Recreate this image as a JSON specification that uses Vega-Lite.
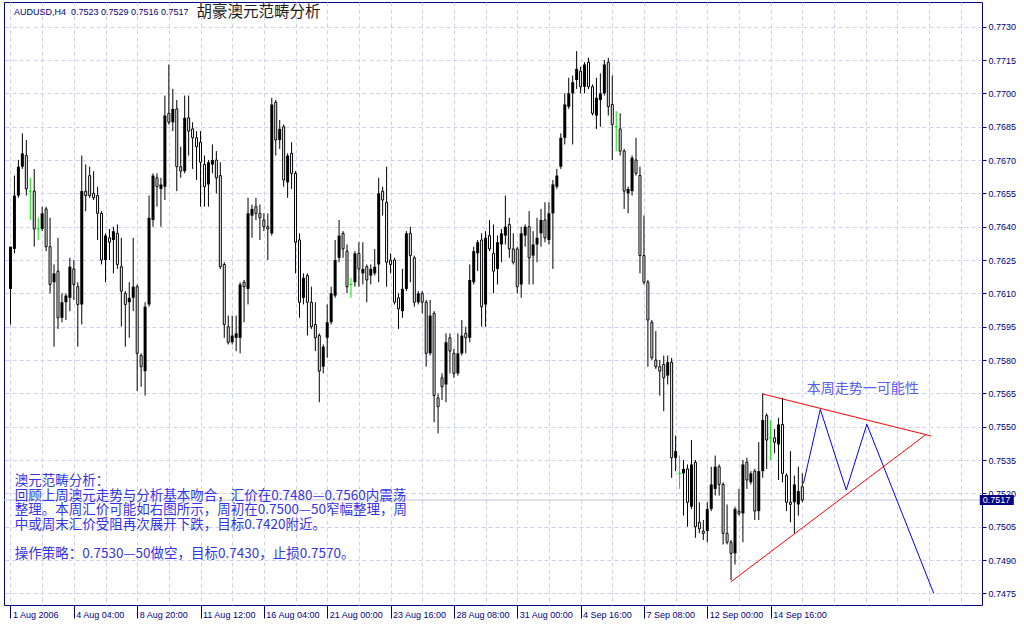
{
  "$schema": "https://vega.github.io/schema/vega-lite/v6.json",
  "autosize": {"type": "none"},
  "padding": {"left": 4, "top": 2, "right": 42, "bottom": 22},
  "width": 978,
  "height": 603,
  "background": "#ffffff",
  "config": {
    "view": {"stroke": "#000080", "strokeWidth": 1},
    "axis": {"labelOverlap": false, "labelFlush": false, "labelBound": false}
  },
  "datasets": {
    "bars": [
      {"i":0,"o":0.7612,"h":0.7631,"l":0.7596,"c":0.7631},
      {"i":1,"o":0.7630,"h":0.7663,"l":0.7628,"c":0.7654},
      {"i":2,"o":0.7654,"h":0.7670,"l":0.7653,"c":0.7667},
      {"i":3,"o":0.7667,"h":0.7682,"l":0.7666,"c":0.7673},
      {"i":4,"o":0.7672,"h":0.7679,"l":0.7654,"c":0.7657},
      {"i":5,"o":0.7656,"h":0.7662,"l":0.7643,"c":0.7656},
      {"i":6,"o":0.7656,"h":0.7666,"l":0.7631,"c":0.7639},
      {"i":7,"o":0.7639,"h":0.7644,"l":0.7634,"c":0.7639},
      {"i":8,"o":0.7639,"h":0.7649,"l":0.7638,"c":0.7646},
      {"i":9,"o":0.7648,"h":0.7649,"l":0.7629,"c":0.7631},
      {"i":10,"o":0.7631,"h":0.7644,"l":0.7610,"c":0.7614},
      {"i":11,"o":0.7615,"h":0.7623,"l":0.7586,"c":0.7619},
      {"i":12,"o":0.7620,"h":0.7635,"l":0.7594,"c":0.7599},
      {"i":13,"o":0.7599,"h":0.7610,"l":0.7597,"c":0.7606},
      {"i":14,"o":0.7606,"h":0.7610,"l":0.7598,"c":0.7609},
      {"i":15,"o":0.7608,"h":0.7626,"l":0.7602,"c":0.7622},
      {"i":16,"o":0.7621,"h":0.7625,"l":0.7607,"c":0.7614},
      {"i":17,"o":0.7613,"h":0.7615,"l":0.7586,"c":0.7605},
      {"i":18,"o":0.7605,"h":0.7672,"l":0.7596,"c":0.7656},
      {"i":19,"o":0.7656,"h":0.7668,"l":0.7647,"c":0.7654},
      {"i":20,"o":0.7663,"h":0.7667,"l":0.7653,"c":0.7654},
      {"i":21,"o":0.7655,"h":0.7665,"l":0.7652,"c":0.7653},
      {"i":22,"o":0.7654,"h":0.7658,"l":0.7634,"c":0.7646},
      {"i":23,"o":0.7646,"h":0.7647,"l":0.7623,"c":0.7625},
      {"i":24,"o":0.7625,"h":0.7637,"l":0.7615,"c":0.7636},
      {"i":25,"o":0.7635,"h":0.7639,"l":0.7625,"c":0.7633},
      {"i":26,"o":0.7634,"h":0.7640,"l":0.7619,"c":0.7638},
      {"i":27,"o":0.7637,"h":0.7641,"l":0.7621,"c":0.7623},
      {"i":28,"o":0.7622,"h":0.7635,"l":0.7595,"c":0.7611},
      {"i":29,"o":0.7610,"h":0.7611,"l":0.7586,"c":0.7605},
      {"i":30,"o":0.7606,"h":0.7615,"l":0.7590,"c":0.7608},
      {"i":31,"o":0.7608,"h":0.7635,"l":0.7602,"c":0.7613},
      {"i":32,"o":0.7613,"h":0.7614,"l":0.7566,"c":0.7583},
      {"i":33,"o":0.7582,"h":0.7583,"l":0.7568,"c":0.7577},
      {"i":34,"o":0.7575,"h":0.7606,"l":0.7564,"c":0.7604},
      {"i":35,"o":0.7605,"h":0.7654,"l":0.7604,"c":0.7644},
      {"i":36,"o":0.7643,"h":0.7664,"l":0.7640,"c":0.7663},
      {"i":37,"o":0.7662,"h":0.7664,"l":0.7649,"c":0.7658},
      {"i":38,"o":0.7657,"h":0.7662,"l":0.7640,"c":0.7659},
      {"i":39,"o":0.7658,"h":0.7699,"l":0.7652,"c":0.7690},
      {"i":40,"o":0.7691,"h":0.7713,"l":0.7686,"c":0.7687},
      {"i":41,"o":0.7687,"h":0.7702,"l":0.7683,"c":0.7693},
      {"i":42,"o":0.7693,"h":0.7697,"l":0.7656,"c":0.7667},
      {"i":43,"o":0.7667,"h":0.7676,"l":0.7662,"c":0.7665},
      {"i":44,"o":0.7665,"h":0.7699,"l":0.7664,"c":0.7689},
      {"i":45,"o":0.7689,"h":0.7699,"l":0.7672,"c":0.7683},
      {"i":46,"o":0.7684,"h":0.7687,"l":0.7666,"c":0.7680},
      {"i":47,"o":0.7680,"h":0.7683,"l":0.7661,"c":0.7676},
      {"i":48,"o":0.7678,"h":0.7683,"l":0.7649,"c":0.7669},
      {"i":49,"o":0.7668,"h":0.7672,"l":0.7649,"c":0.7658},
      {"i":50,"o":0.7659,"h":0.7670,"l":0.7649,"c":0.7669},
      {"i":51,"o":0.7668,"h":0.7677,"l":0.7664,"c":0.7670},
      {"i":52,"o":0.7670,"h":0.7674,"l":0.7655,"c":0.7662},
      {"i":53,"o":0.7663,"h":0.7669,"l":0.7621,"c":0.7622},
      {"i":54,"o":0.7623,"h":0.7624,"l":0.7590,"c":0.7596},
      {"i":55,"o":0.7595,"h":0.7600,"l":0.7587,"c":0.7588},
      {"i":56,"o":0.7588,"h":0.7600,"l":0.7587,"c":0.7591},
      {"i":57,"o":0.7590,"h":0.7600,"l":0.7584,"c":0.7592},
      {"i":58,"o":0.7590,"h":0.7615,"l":0.7583,"c":0.7614},
      {"i":59,"o":0.7615,"h":0.7616,"l":0.7597,"c":0.7613},
      {"i":60,"o":0.7612,"h":0.7653,"l":0.7605,"c":0.7646},
      {"i":61,"o":0.7645,"h":0.7650,"l":0.7635,"c":0.7648},
      {"i":62,"o":0.7649,"h":0.7653,"l":0.7643,"c":0.7646},
      {"i":63,"o":0.7646,"h":0.7650,"l":0.7634,"c":0.7644},
      {"i":64,"o":0.7643,"h":0.7646,"l":0.7638,"c":0.7640},
      {"i":65,"o":0.7640,"h":0.7646,"l":0.7625,"c":0.7639},
      {"i":66,"o":0.7637,"h":0.7698,"l":0.7636,"c":0.7695},
      {"i":67,"o":0.7696,"h":0.7697,"l":0.7672,"c":0.7679},
      {"i":68,"o":0.7679,"h":0.7688,"l":0.7675,"c":0.7684},
      {"i":69,"o":0.7685,"h":0.7686,"l":0.7658,"c":0.7661},
      {"i":70,"o":0.7660,"h":0.7673,"l":0.7653,"c":0.7672},
      {"i":71,"o":0.7673,"h":0.7678,"l":0.7657,"c":0.7664},
      {"i":72,"o":0.7664,"h":0.7665,"l":0.7619,"c":0.7633},
      {"i":73,"o":0.7634,"h":0.7637,"l":0.7599,"c":0.7606},
      {"i":74,"o":0.7608,"h":0.7619,"l":0.7605,"c":0.7617},
      {"i":75,"o":0.7618,"h":0.7619,"l":0.7591,"c":0.7606},
      {"i":76,"o":0.7606,"h":0.7613,"l":0.7594,"c":0.7595},
      {"i":77,"o":0.7596,"h":0.7606,"l":0.7584,"c":0.7590},
      {"i":78,"o":0.7591,"h":0.7592,"l":0.7561,"c":0.7575},
      {"i":79,"o":0.7577,"h":0.7587,"l":0.7574,"c":0.7586},
      {"i":80,"o":0.7590,"h":0.7605,"l":0.7581,"c":0.7597},
      {"i":81,"o":0.7597,"h":0.7613,"l":0.7596,"c":0.7610},
      {"i":82,"o":0.7609,"h":0.7634,"l":0.7608,"c":0.7625},
      {"i":83,"o":0.7626,"h":0.7643,"l":0.7624,"c":0.7636},
      {"i":84,"o":0.7637,"h":0.7638,"l":0.7626,"c":0.7630},
      {"i":85,"o":0.7629,"h":0.7632,"l":0.7610,"c":0.7613},
      {"i":86,"o":0.7614,"h":0.7617,"l":0.7608,"c":0.7614},
      {"i":87,"o":0.7615,"h":0.7629,"l":0.7613,"c":0.7628},
      {"i":88,"o":0.7628,"h":0.7633,"l":0.7613,"c":0.7621},
      {"i":89,"o":0.7619,"h":0.7633,"l":0.7614,"c":0.7621},
      {"i":90,"o":0.7622,"h":0.7623,"l":0.7606,"c":0.7616},
      {"i":91,"o":0.7618,"h":0.7623,"l":0.7614,"c":0.7621},
      {"i":92,"o":0.7619,"h":0.7630,"l":0.7618,"c":0.7622},
      {"i":93,"o":0.7623,"h":0.7662,"l":0.7615,"c":0.7655},
      {"i":94,"o":0.7656,"h":0.7658,"l":0.7645,"c":0.7652},
      {"i":95,"o":0.7651,"h":0.7667,"l":0.7613,"c":0.7624},
      {"i":96,"o":0.7625,"h":0.7628,"l":0.7619,"c":0.7623},
      {"i":97,"o":0.7625,"h":0.7626,"l":0.7605,"c":0.7606},
      {"i":98,"o":0.7608,"h":0.7610,"l":0.7594,"c":0.7603},
      {"i":99,"o":0.7602,"h":0.7621,"l":0.7599,"c":0.7612},
      {"i":100,"o":0.7612,"h":0.7638,"l":0.7611,"c":0.7637},
      {"i":101,"o":0.7637,"h":0.7640,"l":0.7615,"c":0.7627},
      {"i":102,"o":0.7626,"h":0.7627,"l":0.7604,"c":0.7606},
      {"i":103,"o":0.7606,"h":0.7611,"l":0.7605,"c":0.7610},
      {"i":104,"o":0.7610,"h":0.7611,"l":0.7601,"c":0.7606},
      {"i":105,"o":0.7606,"h":0.7607,"l":0.7577,"c":0.7583},
      {"i":106,"o":0.7583,"h":0.7607,"l":0.7582,"c":0.7600},
      {"i":107,"o":0.7601,"h":0.7602,"l":0.7552,"c":0.7564},
      {"i":108,"o":0.7563,"h":0.7565,"l":0.7547,"c":0.7559},
      {"i":109,"o":0.7572,"h":0.7574,"l":0.7562,"c":0.7568},
      {"i":110,"o":0.7569,"h":0.7592,"l":0.7561,"c":0.7588},
      {"i":111,"o":0.7590,"h":0.7592,"l":0.7574,"c":0.7584},
      {"i":112,"o":0.7583,"h":0.7585,"l":0.7572,"c":0.7574},
      {"i":113,"o":0.7574,"h":0.7592,"l":0.7573,"c":0.7583},
      {"i":114,"o":0.7583,"h":0.7598,"l":0.7582,"c":0.7591},
      {"i":115,"o":0.7592,"h":0.7595,"l":0.7583,"c":0.7590},
      {"i":116,"o":0.7590,"h":0.7623,"l":0.7588,"c":0.7616},
      {"i":117,"o":0.7615,"h":0.7631,"l":0.7614,"c":0.7629},
      {"i":118,"o":0.7628,"h":0.7634,"l":0.7620,"c":0.7633},
      {"i":119,"o":0.7634,"h":0.7637,"l":0.7595,"c":0.7604},
      {"i":120,"o":0.7605,"h":0.7638,"l":0.7595,"c":0.7635},
      {"i":121,"o":0.7636,"h":0.7643,"l":0.7629,"c":0.7630},
      {"i":122,"o":0.7628,"h":0.7641,"l":0.7610,"c":0.7620},
      {"i":123,"o":0.7621,"h":0.7636,"l":0.7614,"c":0.7633},
      {"i":124,"o":0.7632,"h":0.7639,"l":0.7624,"c":0.7637},
      {"i":125,"o":0.7636,"h":0.7654,"l":0.7632,"c":0.7640},
      {"i":126,"o":0.7641,"h":0.7644,"l":0.7626,"c":0.7630},
      {"i":127,"o":0.7630,"h":0.7637,"l":0.7623,"c":0.7624},
      {"i":128,"o":0.7630,"h":0.7631,"l":0.7610,"c":0.7613},
      {"i":129,"o":0.7614,"h":0.7640,"l":0.7608,"c":0.7637},
      {"i":130,"o":0.7636,"h":0.7641,"l":0.7631,"c":0.7640},
      {"i":131,"o":0.7640,"h":0.7647,"l":0.7614,"c":0.7626},
      {"i":132,"o":0.7627,"h":0.7638,"l":0.7614,"c":0.7632},
      {"i":133,"o":0.7632,"h":0.7644,"l":0.7624,"c":0.7635},
      {"i":134,"o":0.7637,"h":0.7648,"l":0.7631,"c":0.7643},
      {"i":135,"o":0.7643,"h":0.7651,"l":0.7633,"c":0.7635},
      {"i":136,"o":0.7634,"h":0.7651,"l":0.7632,"c":0.7646},
      {"i":137,"o":0.7646,"h":0.7661,"l":0.7621,"c":0.7659},
      {"i":138,"o":0.7658,"h":0.7666,"l":0.7657,"c":0.7663},
      {"i":139,"o":0.7667,"h":0.7682,"l":0.7666,"c":0.7680},
      {"i":140,"o":0.7680,"h":0.7700,"l":0.7677,"c":0.7695},
      {"i":141,"o":0.7694,"h":0.7707,"l":0.7693,"c":0.7700},
      {"i":142,"o":0.7700,"h":0.7708,"l":0.7677,"c":0.7705},
      {"i":143,"o":0.7706,"h":0.7719,"l":0.7702,"c":0.7711},
      {"i":144,"o":0.7710,"h":0.7712,"l":0.7700,"c":0.7703},
      {"i":145,"o":0.7703,"h":0.7714,"l":0.7700,"c":0.7713},
      {"i":146,"o":0.7714,"h":0.7716,"l":0.7702,"c":0.7703},
      {"i":147,"o":0.7703,"h":0.7704,"l":0.7690,"c":0.7691},
      {"i":148,"o":0.7690,"h":0.7707,"l":0.7684,"c":0.7698},
      {"i":149,"o":0.7697,"h":0.7709,"l":0.7685,"c":0.7700},
      {"i":150,"o":0.7700,"h":0.7715,"l":0.7699,"c":0.7713},
      {"i":151,"o":0.7714,"h":0.7716,"l":0.7690,"c":0.7694},
      {"i":152,"o":0.7695,"h":0.7708,"l":0.7670,"c":0.7686},
      {"i":153,"o":0.7685,"h":0.7692,"l":0.7674,"c":0.7685},
      {"i":154,"o":0.7684,"h":0.7691,"l":0.7672,"c":0.7674},
      {"i":155,"o":0.7674,"h":0.7675,"l":0.7648,"c":0.7656},
      {"i":156,"o":0.7655,"h":0.7658,"l":0.7646,"c":0.7657},
      {"i":157,"o":0.7656,"h":0.7672,"l":0.7654,"c":0.7671},
      {"i":158,"o":0.7670,"h":0.7680,"l":0.7663,"c":0.7664},
      {"i":159,"o":0.7663,"h":0.7667,"l":0.7619,"c":0.7627},
      {"i":160,"o":0.7627,"h":0.7645,"l":0.7614,"c":0.7615},
      {"i":161,"o":0.7615,"h":0.7616,"l":0.7577,"c":0.7598},
      {"i":162,"o":0.7597,"h":0.7598,"l":0.7580,"c":0.7581},
      {"i":163,"o":0.7580,"h":0.7593,"l":0.7576,"c":0.7577},
      {"i":164,"o":0.7577,"h":0.7580,"l":0.7564,"c":0.7575},
      {"i":165,"o":0.7578,"h":0.7582,"l":0.7557,"c":0.7572},
      {"i":166,"o":0.7573,"h":0.7582,"l":0.7569,"c":0.7579},
      {"i":167,"o":0.7579,"h":0.7581,"l":0.7527,"c":0.7536},
      {"i":168,"o":0.7536,"h":0.7546,"l":0.7530,"c":0.7539},
      {"i":169,"o":0.7529,"h":0.7537,"l":0.7522,"c":0.7529},
      {"i":170,"o":0.7529,"h":0.7535,"l":0.7510,"c":0.7531},
      {"i":171,"o":0.7531,"h":0.7533,"l":0.7505,"c":0.7516},
      {"i":172,"o":0.7514,"h":0.7544,"l":0.7513,"c":0.7533},
      {"i":173,"o":0.7534,"h":0.7535,"l":0.7500,"c":0.7505},
      {"i":174,"o":0.7507,"h":0.7516,"l":0.7502,"c":0.7504},
      {"i":175,"o":0.7503,"h":0.7508,"l":0.7499,"c":0.7502},
      {"i":176,"o":0.7503,"h":0.7516,"l":0.7498,"c":0.7513},
      {"i":177,"o":0.7513,"h":0.7532,"l":0.7512,"c":0.7524},
      {"i":178,"o":0.7522,"h":0.7537,"l":0.7519,"c":0.7532},
      {"i":179,"o":0.7532,"h":0.7533,"l":0.7519,"c":0.7524},
      {"i":180,"o":0.7524,"h":0.7525,"l":0.7497,"c":0.7502},
      {"i":181,"o":0.7502,"h":0.7515,"l":0.7497,"c":0.7498},
      {"i":182,"o":0.7498,"h":0.7499,"l":0.7481,"c":0.7493},
      {"i":183,"o":0.7493,"h":0.7514,"l":0.7488,"c":0.7513},
      {"i":184,"o":0.7512,"h":0.7522,"l":0.7510,"c":0.7511},
      {"i":185,"o":0.7511,"h":0.7535,"l":0.7498,"c":0.7533},
      {"i":186,"o":0.7534,"h":0.7536,"l":0.7522,"c":0.7526},
      {"i":187,"o":0.7525,"h":0.7530,"l":0.7524,"c":0.7529},
      {"i":188,"o":0.7530,"h":0.7531,"l":0.7508,"c":0.7512},
      {"i":189,"o":0.7512,"h":0.7543,"l":0.7508,"c":0.7530},
      {"i":190,"o":0.7530,"h":0.7565,"l":0.7527,"c":0.7553},
      {"i":191,"o":0.7555,"h":0.7556,"l":0.7531,"c":0.7544},
      {"i":192,"o":0.7545,"h":0.7553,"l":0.7535,"c":0.7545},
      {"i":193,"o":0.7545,"h":0.7549,"l":0.7538,"c":0.7543},
      {"i":194,"o":0.7542,"h":0.7554,"l":0.7526,"c":0.7551},
      {"i":195,"o":0.7551,"h":0.7563,"l":0.7525,"c":0.7529},
      {"i":196,"o":0.7528,"h":0.7529,"l":0.7512,"c":0.7516},
      {"i":197,"o":0.7516,"h":0.7539,"l":0.7507,"c":0.7515},
      {"i":198,"o":0.7516,"h":0.7528,"l":0.7502,"c":0.7524},
      {"i":199,"o":0.7515,"h":0.7532,"l":0.7510,"c":0.7521},
      {"i":200,"o":0.7523,"h":0.7529,"l":0.7516,"c":0.7517}
    ],
    "trendlines": [
      {"line": "upper", "i": 190, "p": 0.75647},
      {"line": "upper", "i": 232.6, "p": 0.75458},
      {"line": "lower", "i": 181.9, "p": 0.74801},
      {"line": "lower", "i": 231.1, "p": 0.75463}
    ],
    "forecast": [
      {"i": 200.3, "p": 0.75245},
      {"i": 204.55, "p": 0.75578},
      {"i": 211.1, "p": 0.75215},
      {"i": 216.3, "p": 0.75511},
      {"i": 233.2, "p": 0.74750}
    ]
  },
  "layer": [
    {
      "data": {"values": [{"p": 0.7517}]},
      "mark": {"type": "rule", "color": "#c4c4d4", "strokeWidth": 1},
      "encoding": {
        "y": {
          "field": "p", "type": "quantitative",
          "scale": {"domain": [0.746976, 0.774111], "nice": false, "zero": false},
          "axis": {
            "title": null, "orient": "right", "domain": false, "format": ".4f",
            "values": [0.7475, 0.749, 0.7505, 0.752, 0.7535, 0.755, 0.7565, 0.758, 0.7595, 0.761, 0.7625, 0.764, 0.7655, 0.767, 0.7685, 0.77, 0.7715, 0.773],
            "tickCount": 40,
            "grid": true, "gridColor": "#cfcfef", "gridDash": [4, 3], "gridWidth": 1,
            "tickSize": 4, "tickColor": "#000080", "tickWidth": 1,
            "labelPadding": 2, "labelAlign": "left", "labelBaseline": "middle",
            "labelFont": "Liberation Sans", "labelFontSize": 9, "labelColor": "#000080",
            "labelOverlap": false, "labelFlush": false, "labelBound": false
          }
        }
      }
    },
    {
      "data": {"name": "bars"},
      "mark": {"type": "rule", "strokeWidth": 1},
      "encoding": {
        "x": {
          "field": "i", "type": "quantitative",
          "scale": {"domain": [-0.375, 244.125], "nice": false, "zero": false},
          "axis": {
            "title": null, "orient": "bottom", "domain": false,
            "values": [0, 8, 16, 24, 32, 40, 48, 56, 64, 72, 80, 88, 96, 104, 112, 120, 128, 136, 144, 152, 160, 168, 176, 184, 192, 200, 208, 216, 224, 232, 240],
            "tickCount": 60,
            "grid": true, "gridColor": "#cfcfef", "gridDash": [4, 3], "gridWidth": 1,
            "ticks": true, "tickSize": 13, "tickWidth": 1,
            "tickColor": {"condition": {"test": "datum.value % 16 === 0 && datum.value <= 192", "value": "#000080"}, "value": "rgba(0,0,0,0)"},
            "labelExpr": "datum.value % 16 === 0 && datum.value <= 192 ? ['1 Aug 2006','4 Aug 04:00','8 Aug 20:00','11 Aug 12:00','16 Aug 04:00','21 Aug 00:00','23 Aug 16:00','28 Aug 08:00','31 Aug 00:00','4 Sep 16:00','7 Sep 08:00','12 Sep 00:00','14 Sep 16:00'][datum.value / 16] : ''",
            "labelAlign": "left", "labelBaseline": "top", "labelPadding": -8, "labelOffset": 2,
            "labelFont": "Liberation Sans", "labelFontSize": 9, "labelColor": "#000080",
            "labelOverlap": false, "labelFlush": false, "labelBound": false
          }
        },
        "y": {"field": "l", "type": "quantitative"},
        "y2": {"field": "h"},
        "color": {"condition": {"test": "datum.c === datum.o", "value": "#00e600"}, "value": "#000000"}
      }
    },
    {
      "data": {"name": "bars"},
      "transform": [{"filter": "datum.c > datum.o"}],
      "mark": {"type": "bar", "orient": "vertical", "width": 3, "fill": "#000000", "stroke": null},
      "encoding": {
        "x": {"field": "i", "type": "quantitative"},
        "y": {"field": "o", "type": "quantitative"},
        "y2": {"field": "c"}
      }
    },
    {
      "data": {"name": "bars"},
      "transform": [{"filter": "datum.c < datum.o"}],
      "mark": {"type": "bar", "orient": "vertical", "width": 2, "fill": "#ffffff", "stroke": "#000000", "strokeWidth": 1},
      "encoding": {
        "x": {"field": "i", "type": "quantitative"},
        "y": {"field": "o", "type": "quantitative"},
        "y2": {"field": "c"}
      }
    },
    {
      "data": {"name": "bars"},
      "transform": [{"filter": "datum.c === datum.o"}],
      "mark": {"type": "tick", "orient": "horizontal", "size": 3, "thickness": 1, "color": "#00e600", "opacity": 1},
      "encoding": {
        "x": {"field": "i", "type": "quantitative"},
        "y": {"field": "o", "type": "quantitative"}
      }
    },
    {
      "data": {"name": "trendlines"},
      "mark": {"type": "line", "color": "#ff0000", "strokeWidth": 1},
      "encoding": {
        "x": {"field": "i", "type": "quantitative"},
        "y": {"field": "p", "type": "quantitative"},
        "detail": {"field": "line", "type": "nominal"}
      }
    },
    {
      "data": {"name": "forecast"},
      "mark": {"type": "line", "color": "#0000ff", "strokeWidth": 1},
      "encoding": {
        "x": {"field": "i", "type": "quantitative"},
        "y": {"field": "p", "type": "quantitative"}
      }
    },
    {
      "data": {"values": [{"i": 0.875, "p": 0.77366, "text": "AUDUSD,H4\u00a0 0.7523 0.7529 0.7516 0.7517"}]},
      "mark": {"type": "text", "align": "left", "baseline": "middle", "font": "Liberation Sans", "fontSize": 9, "color": "#000080"},
      "encoding": {
        "x": {"field": "i", "type": "quantitative"},
        "y": {"field": "p", "type": "quantitative"},
        "text": {"field": "text"}
      }
    },
    {
      "data": {"values": [{"i": 47.0, "p": 0.77368, "text": "胡豪澳元范畴分析"}]},
      "mark": {"type": "text", "align": "left", "baseline": "middle", "font": "Noto Sans CJK SC", "fontSize": 15.5, "color": "#1e1e1e"},
      "encoding": {
        "x": {"field": "i", "type": "quantitative"},
        "y": {"field": "p", "type": "quantitative"},
        "text": {"field": "text"}
      }
    },
    {
      "data": {"values": [{"i": 1.1, "p": 0.75285, "text": "澳元范畴分析：\n回顾上周澳元走势与分析基本吻合，汇价在0.7480—0.7560内震荡\n整理。本周汇价可能如右图所示，周初在0.7500—50窄幅整理，周\n中或周末汇价受阻再次展开下跌，目标0.7420附近。"}]},
      "mark": {"type": "text", "align": "left", "baseline": "top", "lineBreak": "\n", "lineHeight": 14.5, "font": "Noto Sans CJK SC", "fontSize": 13.5, "color": "#3434e6"},
      "encoding": {
        "x": {"field": "i", "type": "quantitative"},
        "y": {"field": "p", "type": "quantitative"},
        "text": {"field": "text"}
      }
    },
    {
      "data": {"values": [{"i": 1.1, "p": 0.74959, "text": "操作策略：0.7530—50做空，目标0.7430，止损0.7570。"}]},
      "mark": {"type": "text", "align": "left", "baseline": "top", "font": "Noto Sans CJK SC", "fontSize": 13.5, "color": "#3434e6"},
      "encoding": {
        "x": {"field": "i", "type": "quantitative"},
        "y": {"field": "p", "type": "quantitative"},
        "text": {"field": "text"}
      }
    },
    {
      "data": {"values": [{"i": 201.1, "p": 0.7567, "text": "本周走势一可能性"}]},
      "mark": {"type": "text", "align": "left", "baseline": "middle", "font": "Noto Sans CJK SC", "fontSize": 14, "color": "#5c5cf0"},
      "encoding": {
        "x": {"field": "i", "type": "quantitative"},
        "y": {"field": "p", "type": "quantitative"},
        "text": {"field": "text"}
      }
    },
    {
      "data": {"values": [{"p": 0.7517, "label": "0.7517"}]},
      "mark": {"type": "point", "shape": "M-3.4,-1H3.4V1H-3.4Z", "size": 100, "filled": true, "opacity": 1, "color": "#000080", "strokeWidth": 0},
      "encoding": {
        "x": {"datum": 249.125, "type": "quantitative"},
        "y": {"field": "p", "type": "quantitative"}
      }
    },
    {
      "data": {"values": [{"p": 0.7517, "label": "0.7517"}]},
      "mark": {"type": "text", "align": "left", "baseline": "middle", "font": "Liberation Sans", "fontSize": 9, "color": "#ffffff"},
      "encoding": {
        "x": {"datum": 245.6, "type": "quantitative"},
        "y": {"field": "p", "type": "quantitative"},
        "text": {"field": "label"}
      }
    }
  ]
}
